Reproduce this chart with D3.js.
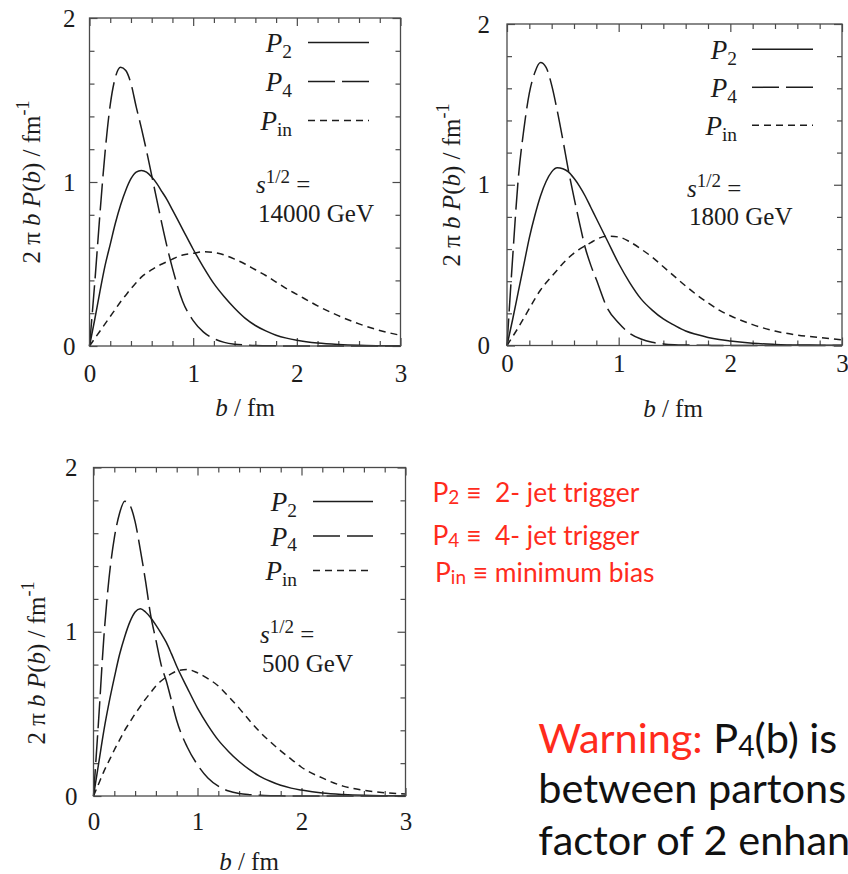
<!DOCTYPE html>
<html>
<head>
<meta charset="utf-8">
<script src="https://cdn.jsdelivr.net/npm/d3@7"></script>
<style>
  html, body { margin: 0; padding: 0; background: #fff; }
  svg { display: block; }
  text { white-space: pre; }
</style>
</head>
<body>
<svg id="chart" width="848" height="874"></svg>
<script>
// Impact-parameter distributions 2*pi*b*P(b) for three collision energies.
const bValues = [0, 0.05, 0.1, 0.15, 0.2, 0.25, 0.3, 0.35, 0.4, 0.45, 0.5, 0.55, 0.6, 0.65, 0.7, 0.75, 0.8,
                 0.9, 1.0, 1.1, 1.2, 1.3, 1.4, 1.5, 1.6, 1.7, 1.8, 1.9, 2.0,
                 2.2, 2.4, 2.6, 2.8, 3.0];

const energyLabels = ["14000 GeV", "1800 GeV", "500 GeV"];

// sqrt(s) = 14000 GeV
const p2_14000 = [0, 0.16, 0.33, 0.49, 0.62, 0.75, 0.86, 0.95, 1.02, 1.06, 1.07, 1.06, 1.03, 0.99, 0.94, 0.89, 0.83,
                  0.71, 0.59, 0.48, 0.38, 0.30, 0.23, 0.17, 0.125, 0.092, 0.066, 0.048, 0.035,
                  0.018, 0.009, 0.004, 0.002, 0.001];
const p4_14000 = [0, 0.38, 0.80, 1.18, 1.47, 1.64, 1.70, 1.68, 1.60, 1.46, 1.33, 1.19, 1.04, 0.89, 0.74, 0.60, 0.475,
                  0.27, 0.155, 0.085, 0.045, 0.022, 0.011, 0.006, 0.003, 0.002, 0.001, 0, 0,
                  0, 0, 0, 0, 0];
const pin_14000 = [0, 0.045, 0.09, 0.135, 0.18, 0.225, 0.27, 0.31, 0.35, 0.385, 0.42, 0.445, 0.465, 0.485, 0.50, 0.515, 0.53,
                   0.555, 0.565, 0.575, 0.57, 0.555, 0.53, 0.50, 0.465, 0.43, 0.39, 0.35, 0.315,
                   0.245, 0.185, 0.135, 0.095, 0.065];

// sqrt(s) = 1800 GeV
const p2_1800 = [0, 0.16, 0.33, 0.50, 0.67, 0.81, 0.93, 1.02, 1.08, 1.105, 1.10, 1.08, 1.04, 0.99, 0.93, 0.86, 0.79,
                 0.65, 0.51, 0.39, 0.29, 0.22, 0.165, 0.125, 0.09, 0.068, 0.05, 0.037, 0.028,
                 0.014, 0.007, 0.003, 0.002, 0.001];
const p4_1800 = [0, 0.54, 1.03, 1.34, 1.57, 1.70, 1.76, 1.73, 1.62, 1.46, 1.28, 1.09, 0.92, 0.76, 0.61, 0.50, 0.41,
                 0.23, 0.14, 0.075, 0.04, 0.02, 0.01, 0.005, 0.003, 0.002, 0.001, 0, 0,
                 0, 0, 0, 0, 0];
const pin_1800 = [0, 0.055, 0.11, 0.17, 0.23, 0.29, 0.345, 0.39, 0.43, 0.47, 0.51, 0.545, 0.575, 0.60, 0.62, 0.64, 0.66,
                  0.68, 0.675, 0.645, 0.60, 0.55, 0.49, 0.43, 0.37, 0.315, 0.265, 0.22, 0.185,
                  0.13, 0.09, 0.065, 0.05, 0.035];

// sqrt(s) = 500 GeV
const p2_500 = [0, 0.20, 0.40, 0.57, 0.72, 0.86, 0.97, 1.06, 1.12, 1.14, 1.12, 1.085, 1.04, 0.99, 0.935, 0.865, 0.79,
                0.66, 0.535, 0.43, 0.34, 0.27, 0.21, 0.16, 0.12, 0.09, 0.065, 0.048, 0.036,
                0.018, 0.009, 0.004, 0.002, 0.001];
const p4_500 = [0, 0.47, 0.97, 1.33, 1.57, 1.72, 1.795, 1.77, 1.67, 1.50, 1.31, 1.10, 0.95, 0.80, 0.70, 0.58, 0.46,
                0.30, 0.19, 0.11, 0.06, 0.03, 0.015, 0.008, 0.004, 0.002, 0.001, 0, 0,
                0, 0, 0, 0, 0];
const pin_500 = [0, 0.075, 0.15, 0.215, 0.28, 0.34, 0.40, 0.45, 0.50, 0.545, 0.59, 0.63, 0.67, 0.70, 0.725, 0.745, 0.76,
                 0.77, 0.75, 0.715, 0.67, 0.605, 0.535, 0.46, 0.39, 0.33, 0.275, 0.225, 0.175,
                 0.11, 0.06, 0.035, 0.02, 0.012];

const xMajorTicks = [0, 1, 2, 3];
const yMajorTicks = [0, 1, 2];
const xMinorTicks = [0.2, 0.4, 0.6, 0.8, 1.2, 1.4, 1.6, 1.8, 2.2, 2.4, 2.6, 2.8];
const yMinorTicks = [0.2, 0.4, 0.6, 0.8, 1.2, 1.4, 1.6, 1.8];

const seriesNames = ["2", "4", "in"];
const triggerText = ["\u2261  2- jet trigger", "\u2261  4- jet trigger", "\u2261 minimum bias"];
const warningLines = [["Warning:", " P", "4", "(b) is"], ["between partons"], ["factor of 2 enhan"]];

// ---- styling and layout ----
const serif = "'Liberation Serif', 'Times New Roman', serif";
const sans = "Lato, 'Gill Sans', 'Open Sans', sans-serif";
const ink = "#1c1c1c";
const frameInk = "#4a4a4a";
const red = "#ff2b1c";
const dashes = [null, "27,7", "7,5"];

const panels = [
  { values: [p2_14000, p4_14000, pin_14000], energy: energyLabels[0],
    box: { left: 89.5, right: 400.5, top: 18, bottom: 346 },
    legend: { labelX: 292, x0: 308, x1: 369, rows: [42.5, 81.5, 120.5] },
    note: { x: 256, y1: 193, y2: 222 },
    xLabel: { x: 245, y: 416 }, yLabel: { x: 40, y: 182 },
    padX: 18, padY: 14 },
  { values: [p2_1800, p4_1800, pin_1800], energy: energyLabels[1],
    box: { left: 507, right: 842, top: 24, bottom: 345.5 },
    legend: { labelX: 737, x0: 752, x1: 813, rows: [49.3, 87.3, 125.3] },
    note: { x: 687, y1: 197, y2: 225 },
    xLabel: { x: 673, y: 417 }, yLabel: { x: 460, y: 185 },
    padX: 9, padY: 17 },
  { values: [p2_500, p4_500, pin_500], energy: energyLabels[2],
    box: { left: 93.5, right: 405.5, top: 467.5, bottom: 796 },
    legend: { labelX: 297, x0: 313, x1: 373, rows: [501.5, 536, 570.5] },
    note: { x: 260, y1: 643, y2: 671.7 },
    xLabel: { x: 249, y: 870 }, yLabel: { x: 45, y: 663 },
    padX: 16, padY: 16 }
];

const svg = d3.select("#chart");

panels.forEach(drawPanel);
drawTriggerKey();
drawWarning();

function drawPanel(p) {
  const g = svg.append("g");
  const x = d3.scaleLinear().domain([0, 3]).range([p.box.left, p.box.right]);
  const y = d3.scaleLinear().domain([0, 2]).range([p.box.bottom, p.box.top]);

  const styleAxis = sel => {
    sel.select(".domain").remove();
    sel.selectAll("line").attr("stroke", frameInk).attr("stroke-width", 1.2);
    sel.selectAll("text").attr("font-family", serif).attr("font-size", 25).attr("fill", ink);
  };
  const addAxis = (axis, tx, ty) =>
    g.append("g").attr("transform", `translate(${tx},${ty})`).call(axis).call(styleAxis);

  // labelled major ticks, bottom and left
  addAxis(d3.axisBottom(x).tickValues(xMajorTicks).tickSize(-8).tickPadding(p.padX).tickFormat(d3.format("d")), 0, p.box.bottom);
  addAxis(d3.axisLeft(y).tickValues(yMajorTicks).tickSize(-8).tickPadding(p.padY).tickFormat(d3.format("d")), p.box.left, 0);
  // mirrored major ticks
  addAxis(d3.axisTop(x).tickValues(xMajorTicks).tickSize(-8).tickFormat(""), 0, p.box.top);
  addAxis(d3.axisRight(y).tickValues(yMajorTicks).tickSize(-8).tickFormat(""), p.box.right, 0);
  // minor ticks on all four sides
  addAxis(d3.axisBottom(x).tickValues(xMinorTicks).tickSize(-5).tickFormat(""), 0, p.box.bottom);
  addAxis(d3.axisTop(x).tickValues(xMinorTicks).tickSize(-5).tickFormat(""), 0, p.box.top);
  addAxis(d3.axisLeft(y).tickValues(yMinorTicks).tickSize(-5).tickFormat(""), p.box.left, 0);
  addAxis(d3.axisRight(y).tickValues(yMinorTicks).tickSize(-5).tickFormat(""), p.box.right, 0);

  // curves
  const line = d3.line()
    .x((d, i) => x(bValues[i]))
    .y(d => y(d))
    .curve(d3.curveMonotoneX);
  p.values.forEach((vals, k) => {
    g.append("path")
      .attr("d", line(vals))
      .attr("fill", "none")
      .attr("stroke", ink)
      .attr("stroke-width", 1.5)
      .attr("stroke-dasharray", dashes[k]);
  });

  // frame
  g.append("rect")
    .attr("x", p.box.left).attr("y", p.box.top)
    .attr("width", p.box.right - p.box.left).attr("height", p.box.bottom - p.box.top)
    .attr("fill", "none").attr("stroke", frameInk).attr("stroke-width", 1.3);

  // legend
  seriesNames.forEach((name, k) => {
    const ly = p.legend.rows[k];
    const t = g.append("text")
      .attr("x", p.legend.labelX).attr("y", ly + 9.5)
      .attr("text-anchor", "end")
      .attr("font-family", serif).attr("font-size", 27).attr("fill", ink);
    t.append("tspan").attr("font-style", "italic").text("P");
    t.append("tspan").attr("font-size", "0.72em").attr("dy", "0.3em").text(name);
    g.append("line")
      .attr("x1", p.legend.x0).attr("x2", p.legend.x1)
      .attr("y1", ly).attr("y2", ly)
      .attr("stroke", ink).attr("stroke-width", 1.5)
      .attr("stroke-dasharray", dashes[k]);
  });

  // energy note
  const s = g.append("text")
    .attr("x", p.note.x).attr("y", p.note.y1)
    .attr("font-family", serif).attr("font-size", 25).attr("fill", ink);
  s.append("tspan").attr("font-style", "italic").text("s");
  s.append("tspan").attr("font-size", "0.76em").attr("dy", "-0.55em").text("1/2");
  s.append("tspan").attr("dy", "0.42em").text(" =");
  g.append("text")
    .attr("x", p.note.x + 2).attr("y", p.note.y2)
    .attr("font-family", serif).attr("font-size", 25).attr("fill", ink)
    .text(p.energy);

  // axis titles
  const xt = g.append("text")
    .attr("x", p.xLabel.x).attr("y", p.xLabel.y)
    .attr("text-anchor", "middle")
    .attr("font-family", serif).attr("font-size", 25).attr("fill", ink);
  xt.append("tspan").attr("font-style", "italic").text("b");
  xt.append("tspan").text(" / fm");

  const yt = g.append("text")
    .attr("transform", `translate(${p.yLabel.x},${p.yLabel.y}) rotate(-90)`)
    .attr("text-anchor", "middle")
    .attr("font-family", serif).attr("font-size", 25).attr("fill", ink);
  yt.append("tspan").text("2 \u03c0 ");
  yt.append("tspan").attr("font-style", "italic").text("b");
  yt.append("tspan").text(" ");
  yt.append("tspan").attr("font-style", "italic").text("P");
  yt.append("tspan").text("(");
  yt.append("tspan").attr("font-style", "italic").text("b");
  yt.append("tspan").text(") / fm");
  yt.append("tspan").attr("font-size", "0.72em").attr("dy", "-0.6em").text("-1");
}

// scale a text element so its rendered width equals the given width
function fitTo(sel, width) {
  const fs = parseFloat(sel.attr("font-size"));
  const w = sel.node().getComputedTextLength();
  const size = fs * width / w;
  sel.attr("font-size", size);
  return size;
}

function drawTriggerKey() {
  const starts = [432.5, 432.5, 435];
  const bases = [501.7, 545, 581.7];
  const rows = seriesNames.map((name, k) => {
    const t = svg.append("text")
      .attr("x", starts[k]).attr("y", bases[k])
      .attr("font-family", sans).attr("font-size", 22).attr("fill", red);
    t.append("tspan").text("P");
    t.append("tspan").attr("font-size", "0.72em").attr("dy", "0.12em").text(name);
    t.append("tspan").attr("dy", "-0.086em").text(" " + triggerText[k]);
    return t;
  });
  const size = fitTo(rows[0], 207);
  rows.forEach(t => t.attr("font-size", size));
}

function drawWarning() {
  const bases = [753.3, 802.5, 855];
  const rows = warningLines.map((parts, k) => {
    const t = svg.append("text")
      .attr("x", 538.3).attr("y", bases[k])
      .attr("font-family", sans).attr("font-size", 36).attr("fill", "#111");
    if (parts.length > 1) {
      t.append("tspan").attr("fill", red).text(parts[0]);
      t.append("tspan").text(parts[1]);
      t.append("tspan").attr("font-size", "0.68em").attr("dy", "0.08em").text(parts[2]);
      t.append("tspan").attr("dy", "-0.054em").text(parts[3]);
    } else {
      t.text(parts[0]);
    }
    return t;
  });
  const size = fitTo(rows[1], 308);
  rows.forEach(t => t.attr("font-size", size));
}
</script>
</body>
</html>
